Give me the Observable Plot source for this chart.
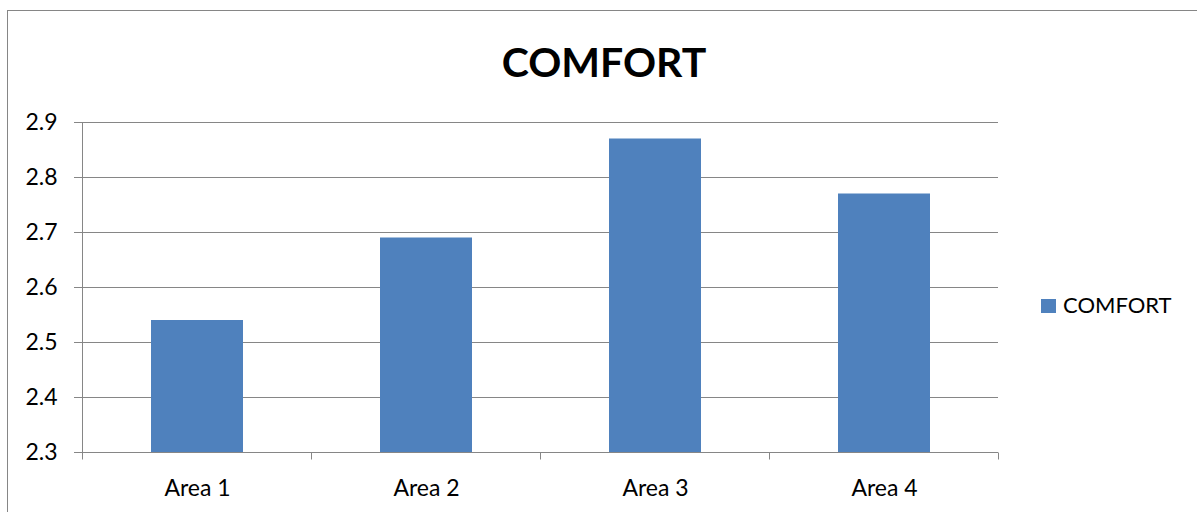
<!DOCTYPE html>
<html>
<head>
<meta charset="utf-8">
<script src="https://cdn.jsdelivr.net/npm/d3@7"></script>
<script src="https://cdn.jsdelivr.net/npm/@observablehq/plot@0.6"></script>
<style>
  html, body { margin: 0; padding: 0; background: #fff; }
  #chart { position: relative; width: 1197px; height: 512px; overflow: hidden; font-family: Lato, "Open Sans", sans-serif; color: #000; }
  #frame { position: absolute; left: 7px; top: 10px; width: 1400px; height: 700px; border-left: 1.5px solid #868686; border-top: 1.5px solid #868686; }
  #title { position: absolute; left: 0; width: 1208px; top: 41px; text-align: center; font-weight: bold; font-size: 41px; line-height: 41px; }
  #legend .swatch { position: absolute; left: 1041px; top: 299px; width: 15px; height: 14px; }
  #legend .label { position: absolute; left: 1063px; top: 293.5px; font-size: 22px; line-height: 22px; white-space: nowrap; }
  #plot { position: absolute; left: 0; top: 0; }
</style>
</head>
<body>
<div id="chart">
  <div id="frame"></div>
  <div id="plot"></div>
  <div id="title"></div>
  <div id="legend"><div class="swatch"></div><div class="label"></div></div>
</div>
<script>
// Mean comfort score by area
const areas = ["Area 1", "Area 2", "Area 3", "Area 4"];
const comfort = [2.54, 2.69, 2.87, 2.77];
const yTicks = [2.3, 2.4, 2.5, 2.6, 2.7, 2.8, 2.9];
const yDomain = [2.3, 2.9];
const seriesName = "COMFORT";
const chartTitle = "COMFORT";
const barColor = "#4F81BD";
const lineColor = "#868686";

const data = areas.map((area, i) => ({area, value: comfort[i]}));

const W = 1197, H = 512;
const mL = 82, mR = 199, mT = 122, mB = 60;

// Category boundary ticks below the baseline
function categoryTicks(index, scales, values, dims) {
  const n = areas.length;
  const left = dims.marginLeft, right = dims.width - dims.marginRight;
  const step = (right - left) / n;
  const base = dims.height - dims.marginBottom;
  const g = d3.create("svg:g").attr("stroke", lineColor).attr("transform", "translate(0.5,0.5)");
  for (let i = 0; i <= n; i++) {
    const x = Math.round(left + i * step);
    g.append("line").attr("x1", x).attr("x2", x).attr("y1", base).attr("y2", base + 7);
  }
  return g.node();
}

const chart = Plot.plot({
  width: W,
  height: H,
  marginLeft: mL,
  marginRight: mR,
  marginTop: mT,
  marginBottom: mB,
  style: {fontFamily: "Lato, 'Open Sans', sans-serif", fontSize: "23px", color: "#000", background: "transparent"},
  x: {domain: areas, paddingInner: 0.6, paddingOuter: 0.3, label: null},
  y: {domain: yDomain, label: null},
  marks: [
    Plot.gridY(yTicks, {stroke: lineColor, strokeOpacity: 1}),
    Plot.barY(data, {x: "area", y1: yDomain[0], y2: "value", fill: barColor}),
    Plot.frame({anchor: "left", stroke: lineColor}),
    Plot.ruleY([yDomain[0]], {stroke: lineColor}),
    Plot.axisY(yTicks, {tickSize: 8, tickPadding: 17, stroke: lineColor, fill: "#000", tickFormat: d3.format(".1f"), label: null}),
    Plot.axisX({tickSize: 0, tickPadding: 27, fill: "#000", label: null}),
    categoryTicks
  ]
});

document.getElementById("plot").appendChild(chart);
document.getElementById("title").textContent = chartTitle;
document.querySelector("#legend .swatch").style.background = barColor;
document.querySelector("#legend .label").textContent = seriesName;
</script>
</body>
</html>
